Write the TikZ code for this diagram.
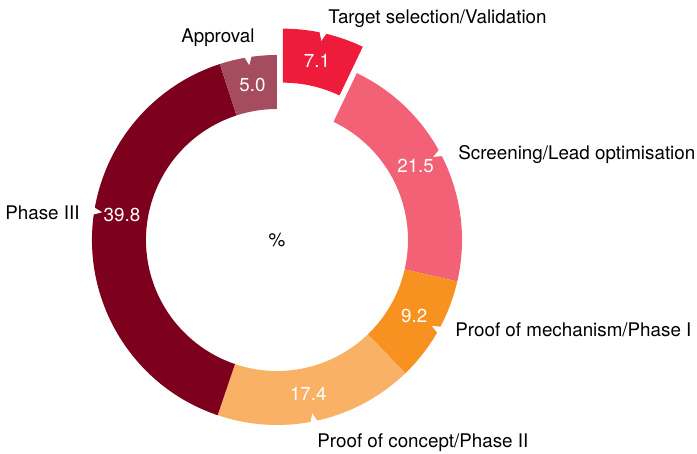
\documentclass[tikz,border=0pt]{standalone}
\usepackage{fontspec}
\setmainfont{TeX Gyre Heros}
\definecolor{targetred}{HTML}{EE1C3A}
\definecolor{screenpink}{HTML}{F26175}
\definecolor{mechorange}{HTML}{F79221}
\definecolor{conceptorange}{HTML}{F9B165}
\definecolor{phasedark}{HTML}{7D001C}
\definecolor{approvalrose}{HTML}{A54C5E}

\tikzset{
    pctlabel/.style = {text = white, font = \fontsize{9.4}{11}\selectfont},
    stagelabel/.style = {text = black, inner sep = 0pt, font = \fontsize{9.4}{11}\selectfont},
}

\begin{document}
\begin{tikzpicture}[x = 0.5pt, y = 0.5pt]
    \useasboundingbox (-277, -214) rectangle (420, 240);
    % ring segments: start/end angle/colour/explode/notch angle/value/name
    \foreach \a/\b/\c/\d/\n/\v/\nm in {90/64.44/targetred/27/77.5/7.1/target,
        64.44/-12.96/screenpink/0/28/21.5/screen,
        -12.96/-46.08/mechorange/0/-29/9.2/mech,
        -46.08/-108.72/conceptorange/0/-78.5/17.4/concept,
        -108.72/-252/phasedark/0/171/39.8/phase,
        -252/-270/approvalrose/0/99/5.0/approval}
    {
        \begin{scope}[shift = {({(\a+\b)/2}:\d)}]
            \fill[\c] (\a:185) arc[start angle = \a, end angle = \b, radius = 185]
                -- (\b:131) arc[start angle = \b, end angle = \a, radius = 131] -- cycle;
            \fill[white] (\n-1.4:188) -- (\n:177) -- (\n+1.4:188) -- cycle;
            \node[pctlabel] (val-\nm) at (\n:157) {\v};
        \end{scope}
    }
    \node[stagelabel, anchor = west] (lbl-target) at (51, 221) {Target selection/Validation};
    \node[stagelabel, anchor = west] (lbl-screen) at (181, 85) {Screening/Lead optimisation};
    \node[stagelabel, anchor = west] (lbl-mech) at (178, -90) {Proof of mechanism/Phase I};
    \node[stagelabel, anchor = west] (lbl-concept) at (40, -203) {Proof of concept/Phase II};
    \node[stagelabel, anchor = east] (lbl-phase) at (-197, 27) {Phase III};
    \node[stagelabel, anchor = east] (lbl-approval) at (-22, 202) {Approval};
    \node[stagelabel] (unit) at (0, 0) {\%};
\end{tikzpicture}
\end{document}
